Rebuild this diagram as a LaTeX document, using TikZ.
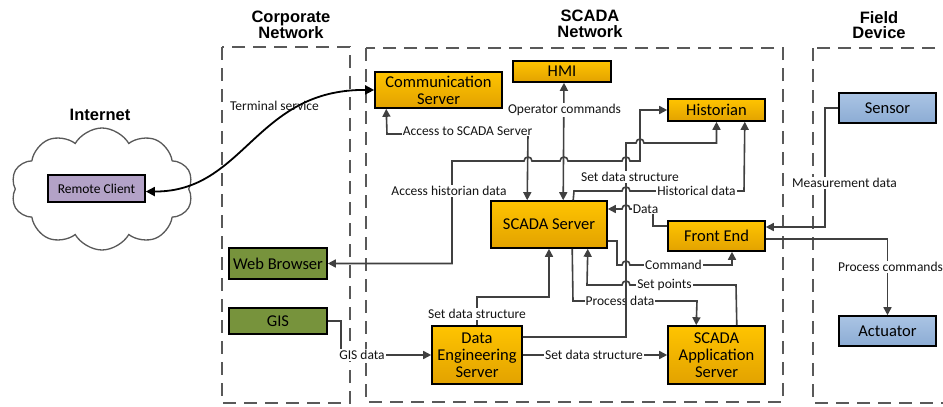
\documentclass[tikz,border=0pt]{standalone}
\usepackage{fontspec}
\setmainfont{Carlito}
\newfontfamily\titlefont{Liberation Sans}
\usetikzlibrary{arrows.meta,shapes.symbols}
\definecolor{goldtop}{RGB}{255,196,0}
\definecolor{goldbot}{RGB}{226,162,0}
\definecolor{olive}{RGB}{119,147,60}
\definecolor{bluetop}{RGB}{170,196,228}
\definecolor{bluebot}{RGB}{140,172,212}
\definecolor{lilac}{RGB}{179,162,199}
\definecolor{conncol}{RGB}{64,64,64}
\definecolor{zonecol}{RGB}{89,89,89}
\definecolor{lbltext}{RGB}{20,20,20}
\tikzset{
  box/.style={draw=black, line width=1.6pt, inner sep=0pt, align=center,
    font=\fontsize{16.5}{17}\selectfont},
  gold/.style={box, top color=goldtop, bottom color=goldbot},
  green/.style={box, fill=olive},
  bluebox/.style={box, top color=bluetop, bottom color=bluebot},
  zone/.style={draw=zonecol, line width=1.8pt, dash pattern=on 13pt off 8pt},
  conn/.style={draw=conncol, line width=1.6pt, line join=miter},
  tip/.style={-{Triangle[length=8pt,width=8pt]}},
  tips/.style={{Triangle[length=8pt,width=8pt]}-{Triangle[length=8pt,width=8pt]}},
  lbl/.style={fill=white, inner sep=1pt, text=lbltext, font=\fontsize{13.5}{14}\selectfont},
  ttl/.style={align=center, font=\titlefont\bfseries\fontsize{16.5}{15.5}\selectfont},
}
\begin{document}
\begin{tikzpicture}[x=1pt,y=-1pt]
\useasboundingbox (0,0) rectangle (943,407);
\fill[white] (0,0) rectangle (943,407);

% zones
\draw[zone] (222,47) rectangle (350,403);
\draw[zone] (366,48) rectangle (783,402);
\draw[zone] (813,48) rectangle (960,403);

% titles
\node[ttl] (tcorp) at (291,25) {Corporate\\Network};
\node[ttl] (tscada) at (590,24) {SCADA\\Network};
\node[ttl] (tfield) at (879,25) {Field\\Device};
\node[ttl] (tinet) at (100,115) {Internet};

% cloud
\node[cloud, cloud puffs=10, cloud puff arc=120, draw=zonecol, line width=1.3pt,
  minimum width=182pt, minimum height=122pt, inner sep=0pt] (cloud) at (102,189) {};

% nodes
\node[box, fill=lilac, minimum width=97pt, minimum height=27pt,
  font=\fontsize{13.5}{14}\selectfont] (remote) at (96.5,188.5) {Remote Client};
\node[gold, minimum width=127pt, minimum height=36pt] (comm) at (438.5,90) {Communication\\Server};
\node[gold, minimum width=98pt, minimum height=21pt] (hmi) at (562,71.5) {HMI};
\node[gold, minimum width=97pt, minimum height=22pt] (hist) at (716.5,110) {Historian};
\node[gold, minimum width=116pt, minimum height=47pt] (scada) at (549,224.5) {SCADA Server};
\node[gold, minimum width=97pt, minimum height=30pt] (fe) at (716.5,236) {Front End};
\node[gold, minimum width=90pt, minimum height=58pt] (des) at (477,355) {Data\\Engineering\\Server};
\node[gold, minimum width=97pt, minimum height=58pt] (sas) at (716.5,355) {SCADA\\Application\\Server};
\node[green, minimum width=98pt, minimum height=31pt] (web) at (278,263.5) {Web Browser};
\node[green, minimum width=98pt, minimum height=26pt] (gis) at (278,321) {GIS};
\node[bluebox, minimum width=97pt, minimum height=30pt] (sensor) at (887.5,108) {Sensor};
\node[bluebox, minimum width=97pt, minimum height=30pt] (act) at (887.5,331) {Actuator};

% terminal service
\draw[line width=1.8pt, black, {Triangle[length=9pt,width=9pt]}-{Triangle[length=9pt,width=9pt]}]
  ([yshift=-3pt]remote.east) .. controls (245,192) and (255,89) .. (comm.west);
\node[inner sep=1pt, text=lbltext, font=\fontsize{13.5}{14}\selectfont] (lterm) at (274.5,106) {Terminal service};

% access to SCADA server
\draw[conn,tips] ([xshift=12pt]comm.south west) -- (387,134) -- (528,134) -- ([xshift=37pt]scada.north west);
% operator commands
\draw[conn,tips] ([xshift=2pt]hmi.south) -- ([xshift=73pt]scada.north west);
% access historian data
\draw[conn,tips] (hist.west) -- (640,110) -- (640,161) -- (630,161)
  .. controls (630,155.7) and (622,155.7) .. (622,161) -- (568,161)
  .. controls (568,155.7) and (560,155.7) .. (560,161) -- (532,161)
  .. controls (532,155.7) and (524,155.7) .. (524,161) -- (452,161) -- (452,263.5) -- (web.east);
% historical data
\draw[conn,tip] ([xshift=83pt]scada.north west) -- (574,191) -- (622,191)
  .. controls (622,185.7) and (630,185.7) .. (630,191) -- (744,191) -- ([xshift=-21pt]hist.south east);
% data
\draw[conn,tip] ([yshift=10pt]fe.west) -- (653,226) -- (653,209) -- (630,209)
  .. controls (630,203.7) and (622,203.7) .. (622,209) -- ([yshift=15.5pt]scada.east);
% command
\draw[conn,tip] ([yshift=-16.5pt]scada.east) -- (617,241) -- (617,265) -- (622,265)
  .. controls (622,259.7) and (630,259.7) .. (630,265) -- (732,265) -- ([xshift=15.5pt]fe.south);
% set points
\draw[conn,tip] ([xshift=-29pt]sas.north east) -- (736,285) -- (630,285)
  .. controls (630,279.7) and (622,279.7) .. (622,285) -- (587,285) -- ([xshift=-20pt]scada.south east);
% process data
\draw[conn,tip] ([xshift=82pt]scada.south west) -- (573,301) -- (697,301) -- ([xshift=29pt]sas.north west);
% set data structure DES -> SCADA
\draw[conn,tip] (des.north) -- (477,297) -- (549,297) -- (scada.south);
% set data structure DES -> SAS
\draw[conn,tip] (des.east) -- (sas.west);
% GIS data
\draw[conn,tip] (gis.east) -- (341,321) -- (341,355) -- (des.west);
% measurement data
\draw[conn,tip] (sensor.west) -- (825,108) -- (825,227) -- ([yshift=9pt]fe.east);
% process commands
\draw[conn,tip] ([yshift=-3pt]fe.east) -- (887.5,239) -- (act.north);

% labels
\node[lbl] (l1) at (467.5,131) {Access to SCADA Server};
\node[lbl] (l2) at (564.5,110) {Operator commands};
\node[lbl] (l3) at (449,191) {Access historian data};
\node[lbl] (l4) at (696.5,191) {Historical data};
\node[lbl] (l5) at (645.5,209) {Data};
\node[lbl] (l6) at (673.5,265) {Command};
\node[lbl] (l7) at (664.5,285) {Set points};
\node[lbl] (l8) at (620,301) {Process data};
\node[lbl] (l9) at (477,314) {Set data structure};
\node[lbl] (l10) at (594,355) {Set data structure};
\node[lbl] (l11) at (362,355) {GIS data};
\node[lbl] (l12) at (844.5,183) {Measurement data};
\node[lbl] (l13) at (890.5,267) {Process commands};

% set data structure DES -> Historian (drawn over Process data label)
\draw[conn,tip] ([yshift=18pt]des.east) -- (626,337) -- (626,143) -- (636,143)
  .. controls (636,137.7) and (644,137.7) .. (644,143) -- (716.5,143) -- (hist.south);
\node[lbl] (l14) at (630,177) {Set data structure};
\end{tikzpicture}
\end{document}
